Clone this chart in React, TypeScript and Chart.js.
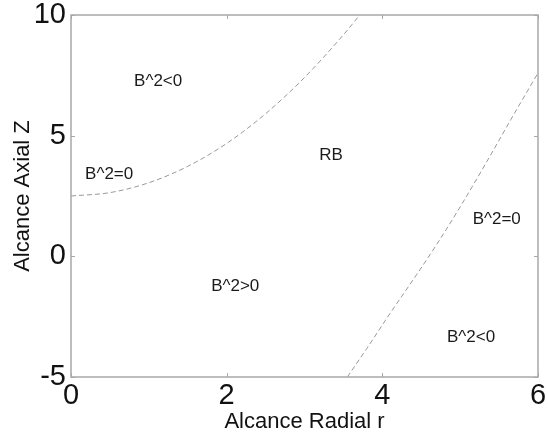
import React, { useEffect, useRef } from "react";
import { Chart, registerables } from "chart.js";
Chart.register(...registerables);

// Tick values
const xTickValues = [0, 2, 4, 6];
const yTickValues = [-5, 0, 5, 10];

// Inner boundary curve (B^2 = 0, left)
const innerR = [0, 0.5, 1, 1.5, 2, 2.5, 3, 3.5, 3.71];
const innerZ = [2.5, 2.64, 3.05, 3.73, 4.68, 5.91, 7.41, 9.18, 10.0];

// Outer boundary curve (B^2 = 0, right)
const outerR = [3.55, 3.8, 4.1, 4.4, 4.7, 5.0, 5.32, 5.65, 6.0];
const outerZ = [-5.0, -3.82, -2.36, -0.95, 0.5, 2.05, 3.8, 5.66, 7.6];

// Region annotations
const labelTexts = ["B^2<0", "B^2=0", "RB", "B^2=0", "B^2<0", "B^2>0"];
const labelR = [1.12, 0.49, 3.34, 5.47, 5.14, 2.11];
const labelZ = [7.26, 3.41, 4.2, 1.55, -3.37, -1.23];

const FRAME = "#a8a8a8";
const FONT = "'Liberation Sans', Arial, sans-serif";

const framePlugin = {
  id: "frameAndLabels",
  afterDatasetsDraw(chart: any) {
    const { ctx, chartArea, scales } = chart;
    const { left, right, top, bottom } = chartArea;
    const xs = scales.x;
    const ys = scales.y;
    ctx.save();
    ctx.strokeStyle = FRAME;
    ctx.lineWidth = 1.5;
    ctx.strokeRect(left, top, right - left, bottom - top);
    ctx.lineWidth = 1;
    const tl = 4;
    ctx.beginPath();
    xTickValues.forEach((v) => {
      const px = Math.round(xs.getPixelForValue(v)) + 0.5;
      ctx.moveTo(px, bottom);
      ctx.lineTo(px, bottom - tl);
      ctx.moveTo(px, top);
      ctx.lineTo(px, top + tl);
    });
    yTickValues.forEach((v) => {
      const py = Math.round(ys.getPixelForValue(v)) + 0.5;
      ctx.moveTo(left, py);
      ctx.lineTo(left + tl, py);
      ctx.moveTo(right, py);
      ctx.lineTo(right - tl, py);
    });
    ctx.stroke();

    ctx.fillStyle = "#1a1a1a";
    ctx.font = "17px " + FONT;
    ctx.textAlign = "center";
    ctx.textBaseline = "middle";
    labelTexts.forEach((t, i) => {
      ctx.fillText(t, xs.getPixelForValue(labelR[i]), ys.getPixelForValue(labelZ[i]));
    });
    ctx.restore();
  },
};

export default function App() {
  const ref = useRef<HTMLCanvasElement | null>(null);
  useEffect(() => {
    if (!ref.current) return;
    const lineStyle = {
      borderColor: "#999",
      borderWidth: 1,
      borderDash: [5, 3],
      pointRadius: 0,
      fill: false,
      tension: 0.4,
      cubicInterpolationMode: "monotone" as const,
    };
    const chart = new Chart(ref.current, {
      type: "line",
      data: {
        datasets: [
          { ...lineStyle, data: innerR.map((r, i) => ({ x: r, y: innerZ[i] })) },
          { ...lineStyle, data: outerR.map((r, i) => ({ x: r, y: outerZ[i] })) },
        ],
      },
      options: {
        animation: false,
        responsive: true,
        maintainAspectRatio: false,
        layout: { padding: { top: 15, right: 10, left: 0, bottom: 0 } },
        plugins: { legend: { display: false }, tooltip: { enabled: false } },
        scales: {
          x: {
            type: "linear",
            min: 0,
            max: 6,
            afterBuildTicks: (s: any) => {
              s.ticks = xTickValues.map((v) => ({ value: v }));
            },
            afterFit: (s: any) => {
              s.height = 67;
              s.paddingLeft = 0;
              s.paddingRight = 0;
            },
            grid: { display: false, drawTicks: false },
            border: { display: false },
            ticks: {
              padding: 4,
              color: "#111",
              font: { family: FONT, size: 29, lineHeight: 1 },
              maxRotation: 0,
              autoSkip: false,
            },
            title: {
              display: true,
              text: "Alcance Radial r",
              color: "#111",
              font: { family: FONT, size: 22, lineHeight: 1 },
              padding: { top: 0, bottom: 11 },
            },
          },
          y: {
            type: "linear",
            min: -5,
            max: 10,
            afterBuildTicks: (s: any) => {
              s.ticks = yTickValues.map((v) => ({ value: v }));
            },
            afterFit: (s: any) => {
              s.width = 71;
              s.paddingTop = 0;
              s.paddingBottom = 0;
            },
            grid: { display: false, drawTicks: false },
            border: { display: false },
            ticks: {
              padding: 5,
              color: "#111",
              font: { family: FONT, size: 29, lineHeight: 1 },
              autoSkip: false,
            },
            title: {
              display: true,
              text: "Alcance Axial Z",
              color: "#111",
              font: { family: FONT, size: 22, lineHeight: 1 },
              padding: { top: 12, bottom: 0 },
            },
          },
        },
      },
      plugins: [framePlugin],
    });
    return () => chart.destroy();
  }, []);
  return (
    <div style={{ position: "fixed", left: 0, top: 0, width: 548, height: 444, background: "#fff" }}>
      <canvas ref={ref} />
    </div>
  );
}
